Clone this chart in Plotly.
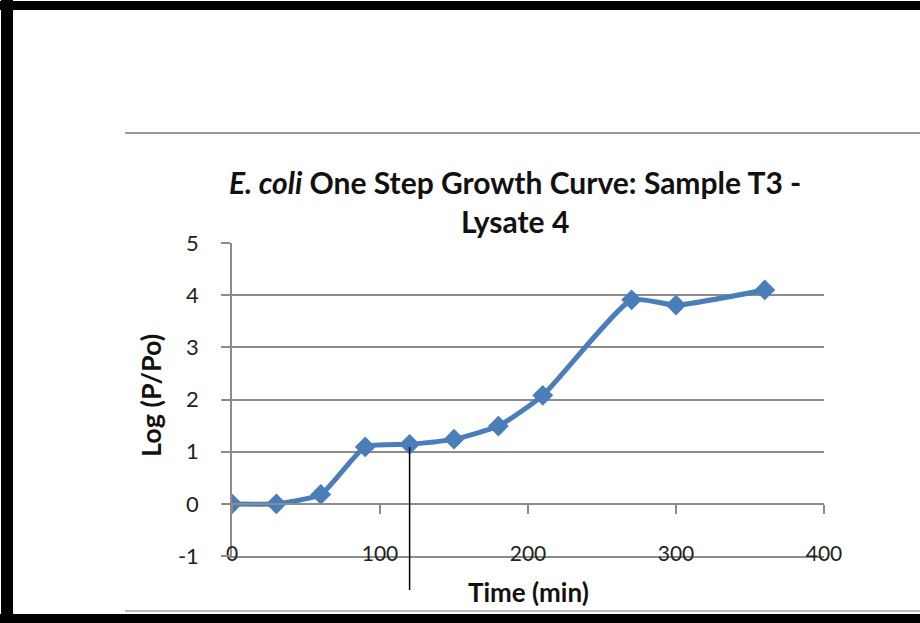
import plotly.graph_objects as go

# ---- data ----
time_min = [0, 30, 60, 90, 120, 150, 180, 210, 270, 300, 360]
log_p_po = [0, 0, 0.18, 1.09, 1.14, 1.24, 1.49, 2.08, 3.91, 3.81, 4.10]
x_ticks = [0, 100, 200, 300, 400]
y_ticks = [-1, 0, 1, 2, 3, 4, 5]
y_tick_text = [str(v) for v in y_ticks]
title_text = "<i>E. coli</i> One Step Growth Curve: Sample T3 -<br>Lysate 4"
x_title = "Time (min)"
y_title = "Log (P/Po)"
marked_time = 120  # vertical black marker line in the screenshot

W, H = 920, 623
L, R, T, B = 232, 824, 243, 556  # plot area pixels


def px(xp):
    return (xp - L) / (R - L)


def py(yp):
    return (B - yp) / (B - T)


FONT = "Lato"
GRID = "#8c8c8c"
BLUE = "#4a7ebb"

fig = go.Figure()
fig.add_trace(go.Scatter(
    x=time_min, y=log_p_po, mode="lines+markers",
    line=dict(color=BLUE, width=5, shape="spline", smoothing=0.5),
    marker=dict(symbol="diamond", size=16, color=BLUE),
    showlegend=False, hoverinfo="skip",
))
# dummy trace so the crossing axis at y=0 is drawn
fig.add_trace(go.Scatter(x=[], y=[], xaxis="x2", yaxis="y", showlegend=False))

fig.update_layout(
    width=W, height=H,
    margin=dict(l=L, r=W - R, t=T, b=H - B),
    paper_bgcolor="white", plot_bgcolor="white",
    font=dict(family=FONT, color="#222"),
    xaxis=dict(range=[0, 400], tickvals=x_ticks, showgrid=False, zeroline=False,
               showline=True, linecolor=GRID, linewidth=1.5, ticks="",
               tickfont=dict(size=21, color="#222"), ticklabelstandoff=-22),
    xaxis2=dict(range=[0, 400], overlaying="x", anchor="free", position=1 / 6,
                tickvals=x_ticks, showticklabels=False, showgrid=False, zeroline=False,
                showline=True, linecolor=GRID, linewidth=1.5,
                ticks="outside", ticklen=9, tickcolor=GRID, tickwidth=1.5, side="bottom"),
    yaxis=dict(range=[-1, 5], tickvals=y_ticks, ticktext=y_tick_text,
               showgrid=True, gridcolor=GRID, gridwidth=1.5,
               zeroline=False, showline=True, linecolor=GRID, linewidth=1.5,
               ticks="outside", ticklen=9, tickcolor=GRID, tickwidth=1.5,
               tickfont=dict(size=22, color="#222"), ticklabelstandoff=18),
)

# title and axis titles
fig.add_annotation(text=title_text, xref="paper", yref="paper", x=px(515), y=py(201),
                   xanchor="center", yanchor="middle", showarrow=False,
                   font=dict(size=30, color="#111", weight="bold"))
fig.add_annotation(text=x_title, xref="paper", yref="paper", x=px(528), y=py(592),
                   xanchor="center", yanchor="middle",
                   showarrow=False, font=dict(size=26, color="#111", weight="bold"))
fig.add_annotation(text=y_title, xref="paper", yref="paper", x=px(150), y=py(396),
                   xanchor="center", yanchor="middle",
                   textangle=-90, showarrow=False, font=dict(size=27, color="#111", weight="bold"))

shapes = [
    # vertical marker line at 120 min
    dict(type="line", xref="x", yref="paper", x0=marked_time, x1=marked_time,
         y0=py(590), y1=py(447), line=dict(color="black", width=1.5), layer="above"),
    # chart-area frame lines (screenshot)
    dict(type="line", xref="paper", yref="paper", x0=px(125), x1=px(920), y0=py(133), y1=py(133),
         line=dict(color="#999", width=2)),
    dict(type="line", xref="paper", yref="paper", x0=px(125), x1=px(920), y0=py(611), y1=py(611),
         line=dict(color="#bbb", width=2)),
    # outer black border
    dict(type="rect", xref="paper", yref="paper", x0=px(0), x1=px(920), y0=py(1), y1=py(10),
         fillcolor="black", line=dict(width=0)),
    dict(type="rect", xref="paper", yref="paper", x0=px(1), x1=px(13), y0=py(0), y1=py(623),
         fillcolor="black", line=dict(width=0)),
    dict(type="rect", xref="paper", yref="paper", x0=px(0), x1=px(920), y0=py(614), y1=py(623),
         fillcolor="black", line=dict(width=0)),
]
fig.update_layout(shapes=shapes)

fig.write_html("out.html")
